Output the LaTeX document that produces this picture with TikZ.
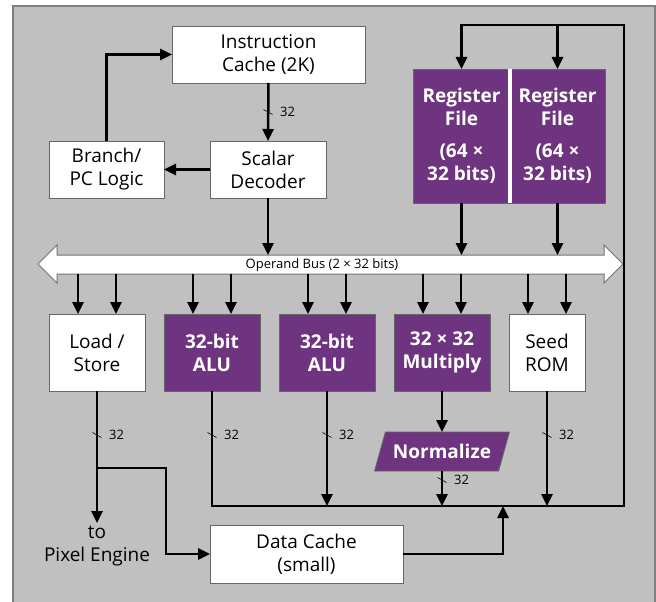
\documentclass[tikz,border=0pt]{standalone}
\usepackage{fontspec}
\setmainfont{Open Sans}
\usetikzlibrary{positioning,arrows.meta,shapes.geometric}
\definecolor{regpurple}{RGB}{110,52,128}
\definecolor{panelgray}{RGB}{192,192,192}
\tikzset{
	every node/.style = {font=\fontsize{19}{23}\selectfont, inner sep = 3},
	>={Triangle[length=12pt,width=11pt]},
	every text node part/.style={align=center},
	wire/.style={line width=2.5pt},
	every edge/.append style={wire, ->},
	whitebox/.style={draw=black!60, fill=white, line width=0.8pt, outer sep=0pt},
	purplebox/.style={draw=black!60, fill=regpurple, text=white, line width=0.8pt, outer sep=0pt,
		font=\fontsize{19}{23}\selectfont\bfseries},
	lowbox/.style={minimum width=96pt, minimum height=77pt},
	smalltext/.style={font=\fontsize{13}{15}\selectfont},
	w32/.pic={
		\draw[line width=0.6pt] (-4.5,-2.5) -- (4.5,2.5);
		\node[smalltext, anchor=west, inner sep=0] at (12,0) {32};
	}
}

\begin{document}
\begin{tikzpicture}[x=1pt, y=-1pt]
	\useasboundingbox (0,0) rectangle (656,602);
	\fill[panelgray] (13,6) rectangle (656,602);
	\draw[black!50, line width=1.5pt] (13,603) -- (13,6) -- (655,6) -- (655,603);

	\node(ic)[whitebox, minimum width=193pt, minimum height=57pt] at (268.5,54.5) {Instruction\\Cache (2K)};
	\node(sd)[whitebox, minimum width=116pt, minimum height=57pt] at (268,169.5) {Scalar\\Decoder};
	\node(br)[whitebox, minimum width=115pt, minimum height=57pt] at (106.5,169.5) {Branch/\\PC Logic};

	\node(rf1)[purplebox, minimum width=97pt, minimum height=134pt, anchor=north west] at (413,69) {Register\\File\\[9pt](64 ×\\32 bits)};
	\node(rf2)[purplebox, minimum width=95pt, minimum height=134pt, anchor=north west] at (rf1.north east) {Register\\File\\[9pt](64 ×\\32 bits)};
	\draw[white, line width=4pt] (rf1.north east) -- (rf1.south east);

	\draw[fill=white, draw=black!55, line width=1pt] (38,264) -- (57,245) -- (57,255) -- (604,255) -- (604,245) -- (623,264)
		-- (604,283) -- (604,274) -- (57,274) -- (57,283) -- cycle;
	\node(bus)[smalltext] at (322,265) {Operand Bus (2 × 32 bits)};
	\coordinate (bustop) at (0,255);
	\coordinate (busbot) at (0,274);

	\node(ls)[whitebox, lowbox, anchor=north west] at (49,314) {Load /\\Store};
	\node(alu1)[purplebox, lowbox, right=19pt of ls] {32-bit\\ALU};
	\node(alu2)[purplebox, lowbox, right=19pt of alu1] {32-bit\\ALU};
	\node(mul)[purplebox, lowbox, right=19pt of alu2] {32 × 32\\Multiply};
	\node(seed)[whitebox, lowbox, minimum width=76pt, right=19pt of mul] {Seed\\ROM};
	\node(norm)[purplebox, trapezium, trapezium left angle=65, trapezium right angle=115, trapezium stretches=true,
		minimum width=135pt, minimum height=39pt, inner xsep=1pt, below=41pt of mul] {Normalize};

	\node(dc)[whitebox, minimum width=193pt, minimum height=58pt] at (306.5,554) {Data Cache\\(small)};
	\node(pix)[below=132pt of ls] {to\\Pixel Engine};

	\path (ic.south) edge (sd.north);
	\path (sd.west) edge (br.east);
	\draw[wire,->] (br.north) |- (ic.west);
	\draw[wire,->] (sd.south) -- (sd.south |- bustop);
	\draw[wire,->] (rf1.south) -- (rf1.south |- bustop);
	\draw[wire,->] (rf2.south) -- (rf2.south |- bustop);

	\foreach \b in {ls,alu1,alu2,mul,seed}{
		\draw[wire,->] ([xshift=-19pt]\b.north |- busbot) -- ([xshift=-19pt]\b.north);
		\draw[wire,->] ([xshift=19pt]\b.north |- busbot) -- ([xshift=19pt]\b.north);
	}

	\coordinate (wb) at (624,506);
	\coordinate (wbtop) at (624,25);
	\draw[wire,->] (alu1.south) |- (wb) -- (wbtop) -| (rf1.north);
	\draw[wire,->] (rf2.north |- wbtop) -- (rf2.north);
	\draw[wire,->] (alu2.south) -- (alu2.south |- wb);
	\path (mul.south) edge (norm.north);
	\draw[wire,->] (norm.south) -- (norm.south |- wb);
	\draw[wire,->] (seed.south) -- (seed.south |- wb);

	\coordinate (fork) at (ls.south |- 0,468);
	\draw[wire,->] (ls.south) -- (pix.north);
	\draw[wire,->] (fork) -| ([xshift=-44pt]dc.west) -- (dc.west);
	\draw[wire,->] (dc.east) -| ([xshift=-121pt]wb);

	\pic at (268,112) {w32};
	\pic at (97,435) {w32};
	\pic at (212,435) {w32};
	\pic at (327,435) {w32};
	\pic at (547,435) {w32};
	\pic at (442,480) {w32};
\end{tikzpicture}
\end{document}
